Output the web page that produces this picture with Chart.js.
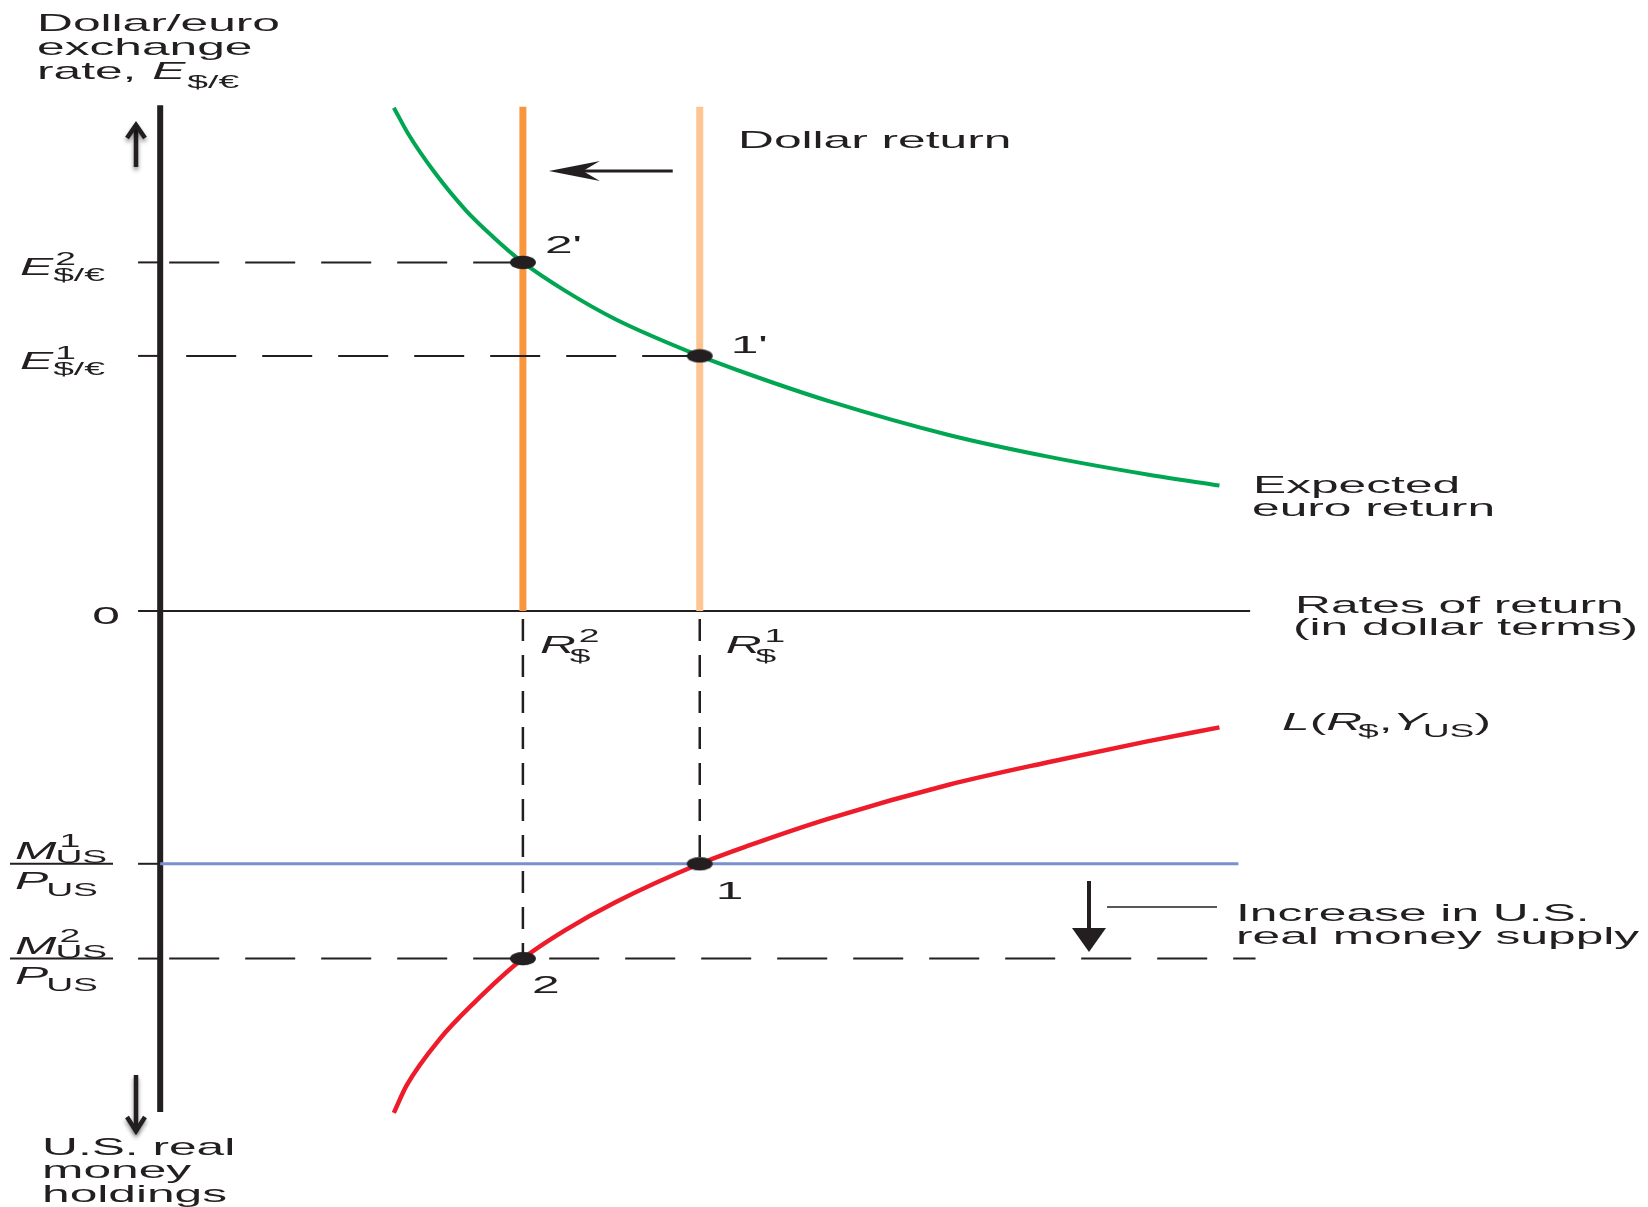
<!DOCTYPE html>
<html>
<head>
<meta charset="utf-8">
<title>Money supply increase and the dollar/euro exchange rate</title>
<script src="https://cdn.jsdelivr.net/npm/chart.js@4.4.1/dist/chart.umd.min.js"></script>
<style>
  html, body { margin: 0; padding: 0; background: #ffffff; }
  #wrap { width: 1648px; height: 1207px; }
</style>
</head>
<body>
<div id="wrap"><canvas id="fx" width="1648" height="1207"></canvas></div>
<script>
// ---- Values ----------------------------------------------------------------
// Dollar interest rates: [R$^2, R$^1]
const dollarRates = [4.02, 5.98];
// Exchange rates at the two equilibria: [E^2, E^1]
const exchangeRates = [8.2, 6.0];
// Real money supply levels: [M^1/P, M^2/P] (plotted downward from the origin)
const realMoney = [5.95, 8.18];

// Expected euro return schedule (rate of return, exchange rate)
const euroReturnR = [2.59, 2.75, 3.03, 3.39, 3.69, 4.02, 4.49, 5.04, 5.98, 6.51, 7.42, 8.74, 9.84, 10.94, 11.74];
const euroReturnE = [11.84, 11.22, 10.35, 9.42, 8.80, 8.20, 7.53, 6.87, 6.00, 5.58, 4.93, 4.14, 3.63, 3.21, 2.95];

// Real money demand L(R$, Y_US) (interest rate, real money holdings)
const liquidityR = [2.59, 2.73, 3.10, 3.47, 4.02, 4.49, 5.04, 5.98, 6.51, 7.42, 8.74, 9.84, 10.94, 11.74];
const liquidityM = [11.81, 11.17, 10.07, 9.24, 8.18, 7.51, 6.86, 5.95, 5.53, 4.88, 4.09, 3.56, 3.07, 2.74];

// ---- Layout of the diagram ---------------------------------------------------
const ORIGIN_X = 154.5, ORIGIN_Y = 611;      // where the two axes cross
const PX_PER_R = 91, PX_PER_V = 43;          // pixels per unit on each axis
const CANVAS_W = 1648, CANVAS_H = 1207;
const X_MIN = -ORIGIN_X / PX_PER_R, X_MAX = X_MIN + CANVAS_W / PX_PER_R;
const Y_MAX = ORIGIN_Y / PX_PER_V, Y_MIN = Y_MAX - CANVAS_H / PX_PER_V;

const AXIS_TOP = 11.9, AXIS_BOTTOM = -11.79;
const RETURN_AXIS_END = 12.08;
const TICK = 0.245;
const SCHEDULE_TOP = 11.86;
const BLUE_END = 11.95, M2_END = 12.14;

const INK = '#231f20';
const GREEN = '#00a651';
const RED = '#ee1c2b';
const BLUE = '#7b8fd0';
const ORANGE = '#f7963e';
const ORANGE_LIGHT = '#fdc592';

const [R2, R1] = dollarRates;
const [E2, E1] = exchangeRates;
const [M1, M2] = realMoney;

function seg(x0, y0, x1, y1, color, width, dash, dashOffset) {
  return {
    data: [{ x: x0, y: y0 }, { x: x1, y: y1 }],
    showLine: true,
    borderColor: color,
    borderWidth: width,
    borderDash: dash || [],
    borderDashOffset: dashOffset || 0,
    borderCapStyle: 'butt',
    pointRadius: 0,
    fill: false
  };
}

function dotImage() {
  const c = document.createElement('canvas');
  c.width = 28; c.height = 15;
  const g = c.getContext('2d');
  g.fillStyle = INK;
  g.beginPath();
  g.ellipse(14, 7.5, 13, 6.8, 0, 0, Math.PI * 2);
  g.fill();
  return c;
}

const datasets = [
  // equilibrium points 2', 1', 1, 2
  {
    data: [
      { x: R2, y: E2 }, { x: R1, y: E1 },
      { x: R1, y: -M1 }, { x: R2, y: -M2 }
    ],
    showLine: false,
    pointStyle: dotImage(),
    pointRadius: 6
  },
  // expected euro return
  {
    data: euroReturnR.map((r, i) => ({ x: r, y: euroReturnE[i] })),
    showLine: true, borderColor: GREEN, borderWidth: 4,
    cubicInterpolationMode: 'monotone', pointRadius: 0, fill: false
  },
  // money demand
  {
    data: liquidityR.map((r, i) => ({ x: r, y: -liquidityM[i] })),
    showLine: true, borderColor: RED, borderWidth: 4.5,
    cubicInterpolationMode: 'monotone', pointRadius: 0, fill: false
  },
  // dashed guides
  seg(0, E2, R2, E2, INK, 2, [50, 26], 67),
  seg(0, E1, R1, E1, INK, 2, [50, 26], 50),
  seg(0, -M2, M2_END, -M2, INK, 2, [50, 26], 67),
  seg(R2, 0, R2, -M2, INK, 2.5, [22, 14], 28),
  seg(R1, 0, R1, -M1, INK, 2.5, [22, 14], 28),
  // initial real money supply
  seg(0, -M1, BLUE_END, -M1, BLUE, 3),
  // dollar return schedules
  seg(R2, 0, R2, SCHEDULE_TOP, ORANGE, 7),
  seg(R1, 0, R1, SCHEDULE_TOP, ORANGE_LIGHT, 7),
  // axes
  seg(-TICK, 0, RETURN_AXIS_END, 0, INK, 2),
  seg(0, AXIS_TOP, 0, AXIS_BOTTOM, INK, 6),
  // tick marks on the vertical axis
  ...[E2, E1, -M1, -M2].map(v => seg(-TICK, v, 0, v, INK, 2))
];

// ---- Text and arrows -------------------------------------------------------
const STRETCH = 2.07;
const FONT = '"Liberation Sans", Arial, Helvetica, sans-serif';

function put(ctx, s, x, y, size, italic) {
  ctx.save();
  ctx.font = (italic ? 'italic ' : '') + size + 'px ' + FONT;
  ctx.fillStyle = INK;
  ctx.textBaseline = 'alphabetic';
  ctx.textAlign = 'left';
  const w = ctx.measureText(s).width * STRETCH;
  ctx.translate(x, y);
  ctx.scale(STRETCH, 1);
  ctx.fillText(s, 0, 0);
  ctx.restore();
  return x + w;
}

function line(ctx, pts, width, color) {
  ctx.beginPath();
  ctx.moveTo(pts[0][0], pts[0][1]);
  for (let i = 1; i < pts.length; i++) ctx.lineTo(pts[i][0], pts[i][1]);
  ctx.lineWidth = width;
  ctx.strokeStyle = color || INK;
  ctx.stroke();
}

function poly(ctx, pts) {
  ctx.beginPath();
  ctx.moveTo(pts[0][0], pts[0][1]);
  for (let i = 1; i < pts.length; i++) ctx.lineTo(pts[i][0], pts[i][1]);
  ctx.closePath();
  ctx.fillStyle = INK;
  ctx.fill();
}

const annotations = {
  id: 'annotations',
  afterDatasetsDraw(chart) {
    const ctx = chart.ctx;
    const X = v => chart.scales.x.getPixelForValue(v);
    const Y = v => chart.scales.y.getPixelForValue(v);
    const ax = X(0), ay = Y(0);
    const S = 24, SUB = 18;

    // vertical axis title
    put(ctx, 'Dollar/euro', 37, 31, S);
    put(ctx, 'exchange', 37, 55, S);
    let x = put(ctx, 'rate, ', 37, 79, S);
    x = put(ctx, 'E', x + 2, 79, S, true);
    put(ctx, '$/\u20ac', x + 2, 88, SUB);

    // E levels
    [[E2, '2'], [E1, '1']].forEach(([v, k]) => {
      const y = Y(v);
      const xe = put(ctx, 'E', 20, y + 13, S, true);
      put(ctx, k, xe + 2, y + 3, SUB);
      put(ctx, '$/\u20ac', xe, y + 19, SUB);
    });

    // origin
    put(ctx, '0', ax - 68, ay + 13, S);

    // real money fractions
    [[M1, '1'], [M2, '2']].forEach(([v, k]) => {
      const y = Y(-v);
      const xm = put(ctx, 'M', 15, y - 5, S, true);
      put(ctx, k, xm + 3, y - 17, SUB);
      put(ctx, 'US', xm - 1, y - 1, SUB);
      line(ctx, [[10, y], [113, y]], 2);
      const xp = put(ctx, 'P', 15, y + 25, S, true);
      put(ctx, 'US', xp - 2, y + 32, SUB);
    });

    // interest rate labels
    [[R2, '2', 17], [R1, '1', 26]].forEach(([v, k, off]) => {
      const xr = put(ctx, 'R', X(v) + off, ay + 42, S, true);
      put(ctx, k, xr + 3, ay + 31, SUB);
      put(ctx, '$', xr - 6, ay + 51, SUB);
    });

    // equilibrium labels
    put(ctx, "2'", X(R2) + 22, Y(E2) - 9, S);
    put(ctx, "1'", X(R1) + 31, Y(E1) - 3, S);
    put(ctx, '1', X(R1) + 16, Y(-M1) + 35, S);
    put(ctx, '2', X(R2) + 9, Y(-M2) + 34, S);

    // schedule labels
    put(ctx, 'Dollar return', 738, 148, S);
    put(ctx, 'Expected', 1253, 493, S);
    put(ctx, 'euro return', 1252, 516, S);
    put(ctx, 'Rates of return', 1295, 613, S);
    put(ctx, '(in dollar terms)', 1293, 635, S);

    x = put(ctx, 'L', 1282, 730, S, true);
    x = put(ctx, '(', x, 730, S);
    x = put(ctx, 'R', x, 730, S, true);
    x = put(ctx, '$', x - 4, 737, SUB);
    x = put(ctx, ',', x, 730, S);
    x = put(ctx, 'Y', x, 730, S, true);
    x = put(ctx, 'US', x - 3, 737, SUB);
    put(ctx, ')', x, 730, S);

    put(ctx, 'Increase in U.S.', 1236, 921, S);
    put(ctx, 'real money supply', 1236, 944, S);

    put(ctx, 'U.S. real', 42, 1155, S);
    put(ctx, 'money', 42, 1178, S);
    put(ctx, 'holdings', 42, 1202, S);

    // shift of the dollar return schedule
    const ya = 171;
    line(ctx, [[X(R1) - 27, ya], [X(R2) + 45, ya]], 3);
    poly(ctx, [[X(R2) + 26, ya], [X(R2) + 77, ya - 10], [X(R2) + 60, ya], [X(R2) + 77, ya + 10]]);

    // increase in money supply
    const xd = 1089;
    line(ctx, [[xd, 881], [xd, 932]], 4);
    poly(ctx, [[xd - 17, 928], [xd + 17, 928], [xd, 952]]);
    line(ctx, [[1107, 907], [1217, 907]], 1.5);

    // direction arrows beside the vertical axis
    ctx.save();
    ctx.shadowColor = 'rgba(0,0,0,0.45)';
    ctx.shadowBlur = 4;
    ctx.shadowOffsetY = 3;
    ctx.lineCap = 'butt';
    ctx.lineJoin = 'miter';
    line(ctx, [[136, 167], [136, 126]], 4.5);
    line(ctx, [[127, 138], [136, 125], [145, 138]], 4.5);
    line(ctx, [[136, 1075], [136, 1130]], 4.5);
    line(ctx, [[127, 1117], [136, 1131], [145, 1117]], 4.5);
    ctx.restore();
  }
};

new Chart(document.getElementById('fx'), {
  type: 'scatter',
  data: { datasets },
  options: {
    responsive: false,
    animation: false,
    events: [],
    layout: { padding: 0 },
    plugins: {
      legend: { display: false },
      tooltip: { enabled: false },
      title: { display: false }
    },
    scales: {
      x: { type: 'linear', display: false, min: X_MIN, max: X_MAX },
      y: { type: 'linear', display: false, min: Y_MIN, max: Y_MAX }
    }
  },
  plugins: [annotations]
});
</script>
</body>
</html>
